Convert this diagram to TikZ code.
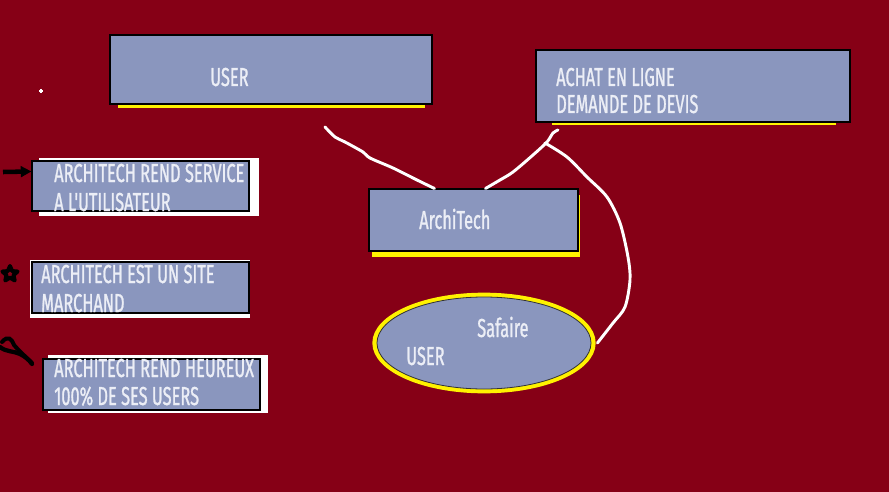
\documentclass[tikz,border=0pt]{standalone}
\usepackage{fontspec}
\newfontfamily\agency{Fira Sans}[FakeStretch=0.63, FakeBold=1]
\usetikzlibrary{arrows.meta,calc,fit,shapes.geometric}
\definecolor{bgred}{RGB}{134,0,22}
\definecolor{boxblue}{RGB}{138,150,190}
\definecolor{hiyellow}{RGB}{255,242,0}
\definecolor{txtwhite}{RGB}{236,238,246}

\begin{document}
\begin{tikzpicture}[x=0.75pt,y=-0.75pt,
    box/.style={draw=black, line width=0.8pt, fill=boxblue, inner sep=0pt},
    txt/.style={anchor=base west, inner sep=0pt, text=txtwhite,
        font=\agency\fontsize{19.5pt}{21pt}\selectfont},
    wire/.style={draw=white, line width=2.2pt, line cap=round, line join=round}]

    % --- Canvas ---
    \useasboundingbox (0,0) rectangle (889,492);
    \fill[bgred] (0,0) rectangle (889,492);
    \draw[white, line width=0.8pt] (39,91) -- (43,91) (41,89) -- (41,93);

    % --- Shadows behind the boxes ---
    \fill[hiyellow] (118,103) rectangle (425,108);
    \fill[hiyellow] (552,121) rectangle (836,125);
    \fill[hiyellow] (372,195) rectangle (580,257);
    \fill[white] (39,158) rectangle (259,216);
    \fill[white] (30,260) rectangle (250,318);
    \fill[white] (48,355) rectangle (268,413);

    % --- Boxes ---
    \node[box, fit={(110,35) (432,104)}] (user) {};
    \node[box, fit={(536,50) (850,122)}] (achat) {};
    \node[box, fit={(369,189) (578,251)}] (archi) {};
    \node[box, fit={(32,161) (249,211)}] (service) {};
    \node[box, fit={(32,262) (249,313)}] (marchand) {};
    \node[box, fit={(43,359) (260,410)}] (heureux) {};

    % --- Ellipse with its yellow rim ---
    \draw[hiyellow, line width=3.5pt] (484,343) ellipse [x radius=82pt, y radius=36pt];
    \node[ellipse, draw=black!80, line width=0.6pt, fill=boxblue, inner sep=0pt,
        minimum width=160.5pt, minimum height=69pt] (safaire) at (484,343) {};

    % --- Texts ---
    \node[txt] (usertop) at (210,86) {USER};
    \node[txt] (achatA) at (556,86) {ACHAT EN LIGNE};
    \node[txt] (achatB) at (556,113) {DEMANDE DE DEVIS};
    \node[txt] (architxt) at (419,229) {ArchiTech};
    \node[txt] (saftxt) at (477,337) {Safaire};
    \node[txt] (userell) at (406,365) {USER};
    \node[txt] (serviceA) at (54,182) {ARCHITECH REND SERVICE};
    \node[txt] (serviceB) at (54,211) {A L'UTILISATEUR};
    \node[txt] (marchandA) at (41,283) {ARCHITECH EST UN SITE};
    \node[txt] (marchandB) at (41,312) {MARCHAND};
    \node[txt] (heureuxA) at (54,377) {ARCHITECH REND HEUREUX};
    \node[txt] (heureuxB) at (54,405) {100\% DE SES USERS};

    % --- Connectors (hand drawn, white) ---
    \coordinate (u1) at (325,127);
    \coordinate (a1) at ($(archi.north west)+(66,0)$);
    \coordinate (c2) at (558,130);
    \coordinate (a2) at ($(archi.north)+(12,0)$);
    \coordinate (c3) at (545,143);
    \coordinate (s1) at ($(safaire.east)+(6,0)$);
    \draw[wire] plot[smooth, tension=0.5] coordinates
        {(u1) (335,137) (345,142) (363,152) (370,158) (393,168) (417,180) (a1)};
    \draw[wire] plot[smooth, tension=0.5] coordinates
        {(c2) (553,133) (547,142) (533,155) (513,172) (500,180) (a2)};
    \draw[wire] plot[smooth, tension=0.5] coordinates
        {(c3) (567,157) (587,177) (607,197) (620,223) (628,257) (630,280) (625,307) (613,323) (s1)};

    % --- Marks on the left ---
    \coordinate (arr0) at (3,172);
    \coordinate (arr1) at ($(service.north west)+(0,11)$);
    \draw[line width=3.4pt, -{Triangle[length=8pt, width=8pt]}] (arr0) -- (arr1);
    \node[star, star points=5, star point ratio=2.2, draw=black, line width=3pt,
        line join=round, minimum size=12pt, inner sep=0pt] (mark) at (10,274) {};
    \draw[line width=3pt, line cap=round]
        (2,342) .. controls (8,335) and (12,339) .. (14,345)
        .. controls (20,352) and (26,357) .. (32,363);
    \draw[line width=3.2pt, line cap=round]
        (0,347) .. controls (6,352) and (14,351) .. (20,354)
        .. controls (26,357) and (29,360) .. (32,364);

\end{tikzpicture}
\end{document}
